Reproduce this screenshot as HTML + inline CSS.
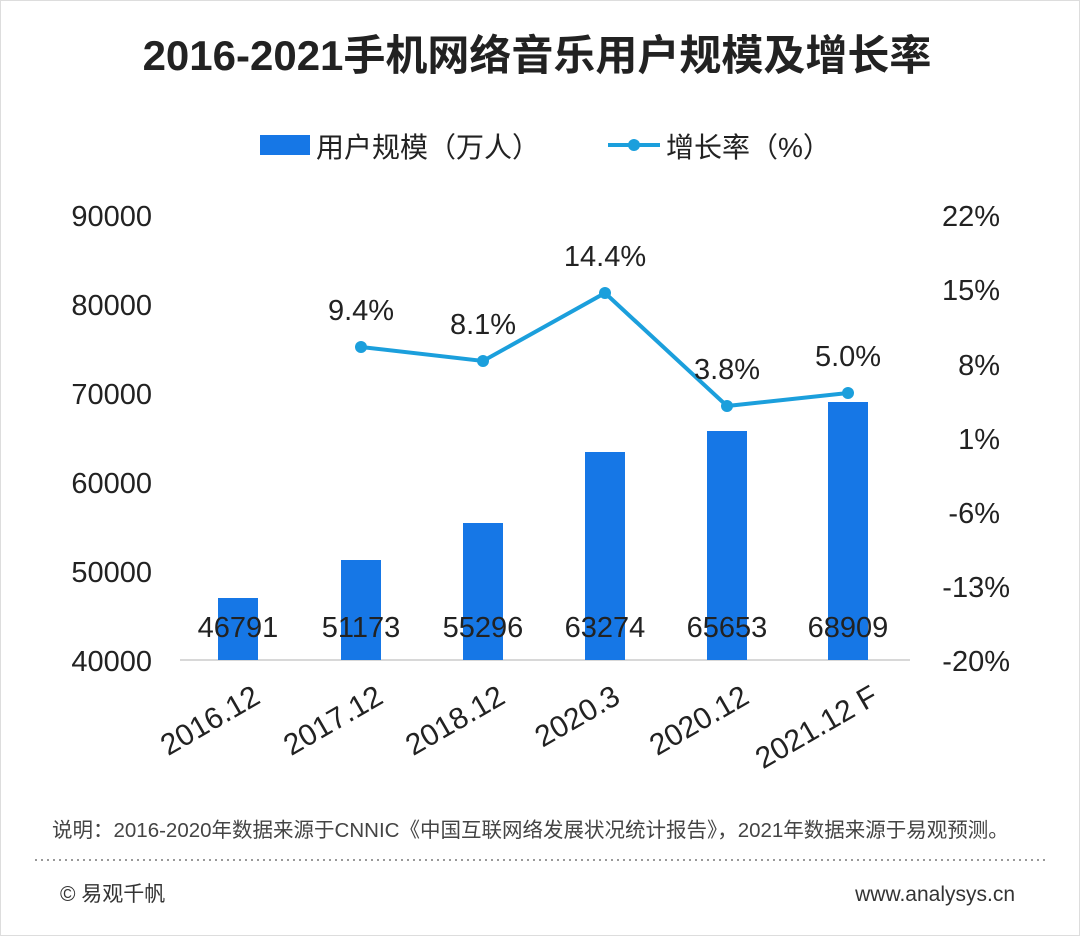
<!DOCTYPE html>
<html><head><meta charset="utf-8"><style>
body{margin:0;background:#fff;}
svg text{font-family:"Liberation Sans","Noto Sans CJK SC",sans-serif;}
</style></head><body>
<svg width="1080" height="936" viewBox="0 0 1080 936" xmlns="http://www.w3.org/2000/svg">
<rect x="0" y="0" width="1080" height="936" fill="#fff"/>
<rect x="0.5" y="0.5" width="1079" height="935" fill="none" stroke="#ddd"/>
<text x="537" y="70" text-anchor="middle" font-size="42" font-weight="bold" fill="#222">2016-2021手机网络音乐用户规模及增长率</text>
<rect x="260" y="135" width="50" height="20" fill="#1677e6"/>
<text x="316" y="157" font-size="28" fill="#222">用户规模（万人）</text>
<line x1="608" y1="145" x2="660" y2="145" stroke="#1b9fdc" stroke-width="4"/>
<circle cx="634" cy="145" r="6" fill="#1b9fdc"/>
<text x="666" y="157" font-size="28" fill="#222">增长率（%）</text>
<g font-size="29" fill="#222" text-anchor="end">
<text x="152" y="226">90000</text><text x="152" y="315">80000</text><text x="152" y="404">70000</text>
<text x="152" y="493">60000</text><text x="152" y="582">50000</text><text x="152" y="671">40000</text>
</g>
<g font-size="29" fill="#222" text-anchor="end">
<text x="1000" y="226">22%</text><text x="1000" y="300">15%</text><text x="1000" y="375">8%</text>
<text x="1000" y="449">1%</text><text x="1000" y="523">-6%</text><text x="1010" y="597">-13%</text><text x="1010" y="671">-20%</text>
</g>
<line x1="180" y1="660" x2="910" y2="660" stroke="#ccc" stroke-width="1.5"/>
<g fill="#1677e6">
<rect x="218" y="598" width="40" height="62"/>
<rect x="341" y="560" width="40" height="100"/>
<rect x="463" y="523" width="40" height="137"/>
<rect x="585" y="452" width="40" height="208"/>
<rect x="707" y="431" width="40" height="229"/>
<rect x="828" y="402" width="40" height="258"/>
</g>
<g font-size="29" fill="#222" text-anchor="middle">
<text x="238" y="637">46791</text><text x="361" y="637">51173</text><text x="483" y="637">55296</text>
<text x="605" y="637">63274</text><text x="727" y="637">65653</text><text x="848" y="637">68909</text>
</g>
<polyline points="361,347 483,361 605,293 727,406 848,393" fill="none" stroke="#1b9fdc" stroke-width="4"/>
<g fill="#1b9fdc"><circle cx="361" cy="347" r="6"/><circle cx="483" cy="361" r="6"/><circle cx="605" cy="293" r="6"/><circle cx="727" cy="406" r="6"/><circle cx="848" cy="393" r="6"/></g>
<g font-size="29" fill="#222" text-anchor="middle">
<text x="361" y="320">9.4%</text><text x="483" y="334">8.1%</text><text x="605" y="266">14.4%</text>
<text x="727" y="379">3.8%</text><text x="848" y="366">5.0%</text>
</g>
<g font-size="30" fill="#222" text-anchor="end">
<text transform="translate(262,702) rotate(-30)">2016.12</text>
<text transform="translate(385,702) rotate(-30)">2017.12</text>
<text transform="translate(507,702) rotate(-30)">2018.12</text>
<text transform="translate(622,702) rotate(-30)">2020.3</text>
<text transform="translate(751,702) rotate(-30)">2020.12</text>
<text transform="translate(880,702) rotate(-30)">2021.12 F</text>
</g>
<text x="52" y="837" font-size="20.5" fill="#444">说明：2016-2020年数据来源于CNNIC《中国互联网络发展状况统计报告》，2021年数据来源于易观预测。</text>
<line x1="35" y1="860" x2="1045" y2="860" stroke="#999" stroke-width="2" stroke-dasharray="2,4"/>
<text x="60" y="901" font-size="21" fill="#333">© 易观千帆</text>
<text x="1015" y="901" font-size="21" fill="#333" text-anchor="end">www.analysys.cn</text>
</svg>
</body></html>
